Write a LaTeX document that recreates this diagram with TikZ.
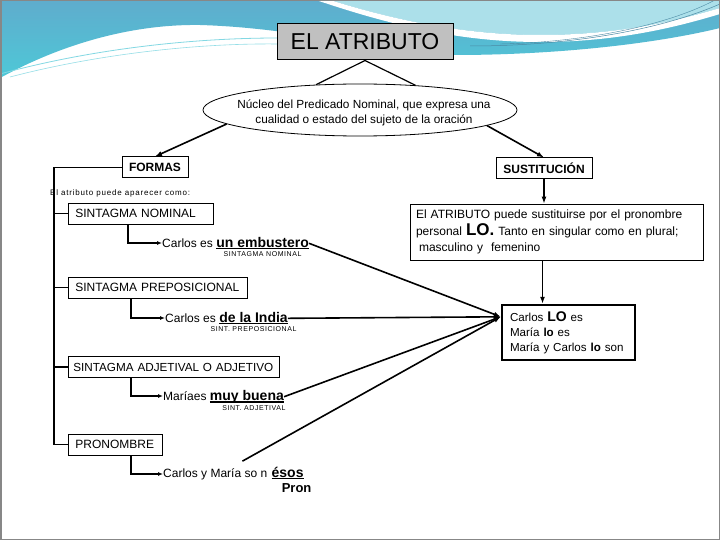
\documentclass[tikz,border=0pt]{standalone}
\usepackage{fontspec}
\setmainfont{Liberation Sans}
\usetikzlibrary{positioning, shapes.geometric, arrows.meta}

\definecolor{skyA}{RGB}{95,172,205}
\definecolor{skyB}{RGB}{78,200,215}
\definecolor{skyC}{RGB}{172,224,234}
\definecolor{frameGray}{RGB}{135,135,135}
\definecolor{titleGray}{RGB}{192,192,192}

% bold word with a heavy underline
\newcommand{\ulw}[1]{\setbox0\hbox{#1}\rlap{\rule[-2.2pt]{\wd0}{1.1pt}}\box0}

\begin{document}
\begin{tikzpicture}[x=1pt, y=-1pt,
    tNode/.style={draw, fill=titleGray, line width=1pt, minimum width=176pt, minimum height=36pt, font=\fontsize{23}{26}\selectfont},
    eNode/.style={ellipse, draw, line width=0.8pt, minimum width=314pt, minimum height=52pt, inner sep=0pt},
    eText/.style={inner sep=0pt, align=center, font=\fontsize{11.8}{15}\selectfont},
    hNode/.style={draw, line width=1pt, minimum height=21pt, inner sep=0pt, font=\fontsize{12}{14}\selectfont\bfseries},
    fNode/.style={draw, line width=0.8pt, anchor=west, minimum height=21pt, inner xsep=7pt, inner ysep=0pt, text width=#1, align=left, font=\fontsize{12}{14}\selectfont},
    bNode/.style={draw, line width=0.8pt, inner xsep=6pt, inner ysep=2pt, text width=#1, align=left, font=\fontsize{12}{16.5}\selectfont},
    xNode/.style={inner sep=0pt, font=\fontsize{12}{14}\selectfont},
    wNode/.style={inner sep=0pt, font=\fontsize{14}{16}\selectfont\bfseries},
    lNode/.style={inner sep=0pt, font=\fontsize{7}{8}\selectfont\addfontfeature{LetterSpace=8}},
    tEdge/.style={draw, line width=1.2pt},
    sEdge/.style={draw, line width=1.2pt, -{Latex[length=5pt, width=4pt]}},
    aEdge/.style={draw, line width=1.6pt, -{Latex[length=7pt, width=5pt]}}
]
    \useasboundingbox (0,0) rectangle (720,540);
    \fill[white] (0,0) rectangle (720,540);

    % header waves
    \shade[top color=skyA, bottom color=skyB] (0,0) -- (720,0) -- (720,28) .. controls (650,45) and (550,55) .. (455,55) .. controls (380,52) and (300,28) .. (200,25) .. controls (130,24) and (60,45) .. (0,78) -- cycle;
    \fill[skyC] (330,0) .. controls (400,22) and (470,35) .. (540,35) .. controls (620,35) and (680,20) .. (720,8) -- (720,0) -- cycle;
    \fill[white] (316,0) .. controls (390,25) and (460,42) .. (540,42) .. controls (620,42) and (680,26) .. (720,14) -- (720,8) .. controls (680,20) and (620,35) .. (540,35) .. controls (470,35) and (400,22) .. (330,0) -- cycle;
    \draw[skyA!80!black, line width=0.5pt] (470,46) .. controls (570,46) and (660,30) .. (720,4);
    \draw[skyA!80!black, line width=0.4pt] (500,44) .. controls (590,42) and (670,24) .. (715,0);
    \draw[skyB!70, line width=0.8pt] (0,74) .. controls (80,52) and (180,38) .. (278,38);
    \draw[skyB!60, line width=0.6pt] (10,77) .. controls (90,56) and (190,43) .. (278,44);
    \draw[frameGray, line width=1.5pt] (0.75,0.75) rectangle (719.25,539.25);

    % top part
    \node[tNode] (tit) at (365,42) {EL ATRIBUTO};
    \node[eNode] (ell) at (360,110) {};
    \node[eText] (ellTxt) at (364,113) {Núcleo del Predicado Nominal, que expresa una\\cualidad o estado del sujeto de la oración};
    \node[hNode, minimum width=66pt] (form) at (155,167.5) {FORMAS};
    \node[hNode, minimum width=96pt] (sus) at (544,168.5) {SUSTITUCIÓN};
    \draw[tEdge] (ell.150) -- (tit.south) -- (ell.24);
    \draw[aEdge] (ell.186) -- (form.north);
    \draw[aEdge] (ell.353) -- (sus.north);

    % right side
    \node[bNode=281pt, minimum height=56pt] (sub) at (556.5,232) {El ATRIBUTO puede sustituirse por el pronombre\\personal {\fontsize{17}{16}\selectfont\bfseries LO.} Tanto en singular como en plural;\\\hspace*{3pt}masculino y \ femenino};
    \node[bNode=117pt, line width=2.4pt, inner xsep=8pt, minimum height=55pt, font=\fontsize{11.6}{15}\selectfont] (sol) at (568.5,332.5) {Carlos {\fontsize{14}{15}\selectfont\bfseries LO} es\\María \textbf{lo} es\\María y Carlos \textbf{lo} son};
    \draw[aEdge] (sus.south) -- (sus.south |- sub.north);
    \draw[aEdge] ([xshift=-14pt]sub.south) -- ([xshift=-14pt]sub.south |- sol.north);

    % left side
    \node[anchor=west, inner sep=0pt, font=\fontsize{8}{9}\selectfont\addfontfeature{LetterSpace=10}] (intro) at (50,193) {El atributo puede aparecer como:};
    \node[fNode=131pt] (sn) at (68,213.5) {SINTAGMA NOMINAL};
    \node[fNode=165pt] (sp) at (68,287.5) {SINTAGMA PREPOSICIONAL};
    \node[fNode=201pt, inner xsep=5pt, font=\fontsize{11.7}{14}\selectfont] (sa) at (68,367) {SINTAGMA ADJETIVAL O ADJETIVO};
    \node[fNode=80pt] (pr) at (68,444.5) {PRONOMBRE};
    \coordinate (trunk) at (54,167.5);
    \draw[tEdge] (form.west) -- (trunk) |- (pr.west);
    \draw[tEdge] (sn.west) -- (sn.west -| trunk);
    \draw[tEdge] (sp.west) -- (sp.west -| trunk);
    \draw[tEdge] (sa.west) -- (sa.west -| trunk);

    % examples
    \node[xNode, anchor=west] (ex1a) at (162,243) {Carlos es};
    \node[wNode, base right=3pt of ex1a] (ex1b) {\ulw{un embustero}};
    \node[lNode, below=2pt of ex1b] (lab1) {SINTAGMA NOMINAL};
    \node[xNode, anchor=west] (ex2a) at (165,318) {Carlos es};
    \node[wNode, base right=3pt of ex2a] (ex2b) {\ulw{de la India}};
    \node[lNode, below=2pt of ex2b] (lab2) {SINT. PREPOSICIONAL};
    \node[xNode, anchor=west] (ex3a) at (163,396) {Maríaes};
    \node[wNode, base right=3pt of ex3a] (ex3b) {\ulw{muy buena}};
    \node[lNode, below=2pt of ex3b, xshift=7pt] (lab3) {SINT. ADJETIVAL};
    \node[xNode, anchor=west] (ex4a) at (163,474) {Carlos y María so n};
    \node[wNode, base right=4pt of ex4a] (ex4b) {\ulw{ésos}};
    \node[wNode, font=\fontsize{13}{15}\selectfont\bfseries, below=4pt of ex4b, xshift=9pt] (pron) {Pron};

    \draw[sEdge] ([xshift=60pt]sn.south west) |- (ex1a.west);
    \draw[sEdge] ([xshift=63pt]sp.south west) |- (ex2a.west);
    \draw[sEdge] ([xshift=63pt]sa.south west) |- (ex3a.west);
    \draw[sEdge] ([xshift=63pt]pr.south west) |- (ex4a.west);

    \coordinate (solIn) at ([yshift=-13pt]sol.north west);
    \coordinate (q4) at ([xshift=-25pt, yshift=7pt]ex4a.north east);
    \draw[aEdge] (ex1b.east) -- (solIn);
    \draw[aEdge] (ex2b.east) -- (solIn);
    \draw[aEdge] (ex3b.east) -- (solIn);
    \draw[aEdge] (q4) -- (solIn);
\end{tikzpicture}
\end{document}
